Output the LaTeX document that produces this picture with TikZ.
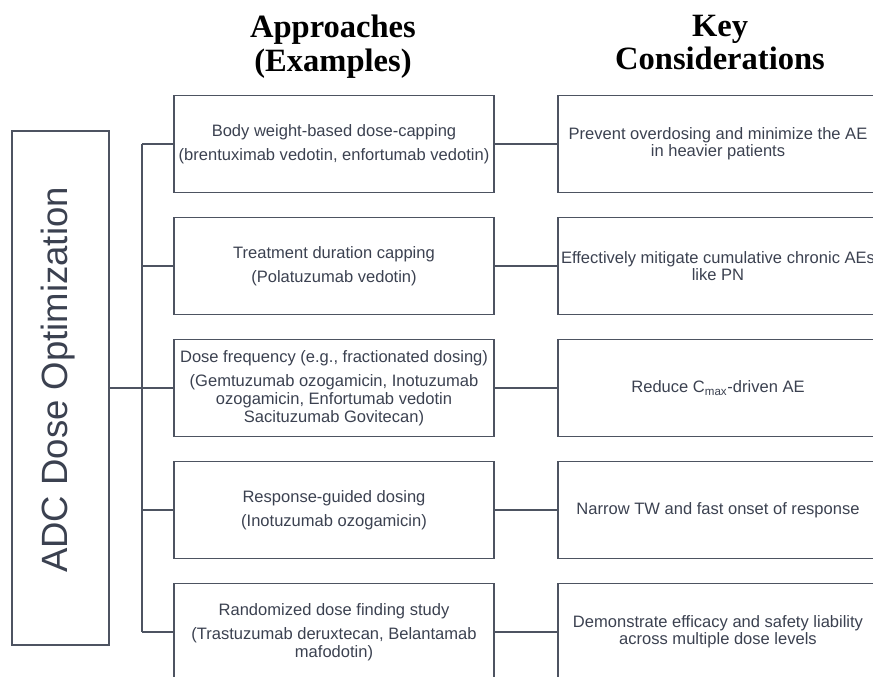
\documentclass[tikz,border=0pt]{standalone}
\usepackage{fontspec}
\setmainfont{Liberation Sans}
\newfontfamily\headfont{Liberation Serif}
\definecolor{boxline}{HTML}{4D5361}
\definecolor{boxtext}{HTML}{3B4150}

\begin{document}
\begin{tikzpicture}
  [x=0.75pt,y=-0.75pt,every node/.style={inner sep=0pt,align=center,text=boxtext},
   appr/.style={draw=boxline,line width=1.1pt,minimum width=240pt,minimum height=72.75pt,
     font=\fontsize{12.4}{13.5}\selectfont},
   cons/.style={appr,font=\fontsize{12.4}{12.75}\selectfont},
   mainbox/.style={draw=boxline,line width=1.1pt,minimum width=72.75pt,minimum height=385.5pt},
   mainlabel/.style={rotate=90,font=\fontsize{27.4}{30}\selectfont},
   head/.style={anchor=north,text=black,font=\headfont\bfseries\fontsize{24.4}{25}\selectfont}]
  \useasboundingbox (0,0) rectangle (873,676);
  \clip (0,0) rectangle (873,676);

  \node[head] (h1) at (333,15) {Approaches\\(Examples)};
  \node[head] (h2) at (720,15) {Key\\Considerations};

  \node[mainbox] (adc) at (60.5,388) {};
  \node[mainlabel] (adclabel) at (58,380) {ADC Dose Optimization};
  \coordinate (hub) at (142,388);

  \node[appr] (a1) at (334,144) {Body weight-based dose-capping\\[4.5pt](brentuximab vedotin, enfortumab vedotin)};
  \node[appr] (a2) at (334,266) {Treatment duration capping\\[4.5pt](Polatuzumab vedotin)};
  \node[appr] (a3) at (334,388) {Dose frequency (e.g., fractionated dosing)\\[4.5pt](Gemtuzumab ozogamicin, Inotuzumab\\ozogamicin, Enfortumab vedotin\\Sacituzumab Govitecan)};
  \node[appr] (a4) at (334,510) {Response-guided dosing\\[4.5pt](Inotuzumab ozogamicin)};
  \node[appr] (a5) at (334,632) {Randomized dose finding study\\[4.5pt](Trastuzumab deruxtecan, Belantamab\\mafodotin)};

  \node[cons] (c1) at (718,144) {Prevent overdosing and minimize the AE\\in heavier patients};
  \node[cons] (c2) at (718,266) {\makebox[0pt]{Effectively mitigate cumulative chronic AEs}\\like PN};
  \node[cons] (c3) at (718,388) {Reduce C\textsubscript{max}-driven AE};
  \node[cons] (c4) at (718,510) {Narrow TW and fast onset of response};
  \node[cons] (c5) at (718,632) {Demonstrate efficacy and safety liability\\across multiple dose levels};

\foreach \i in {1,...,5}
{
    \draw[boxline,line width=1.1pt] (a\i.west) -- (a\i.west -| hub);
    \draw[boxline,line width=1.1pt] (a\i) -- (c\i);
}
    \draw[boxline,line width=1.1pt] (a1.west -| hub) -- (a5.west -| hub);
    \draw[boxline,line width=1.1pt] (adc.east) -- (hub);
\end{tikzpicture}
\end{document}
